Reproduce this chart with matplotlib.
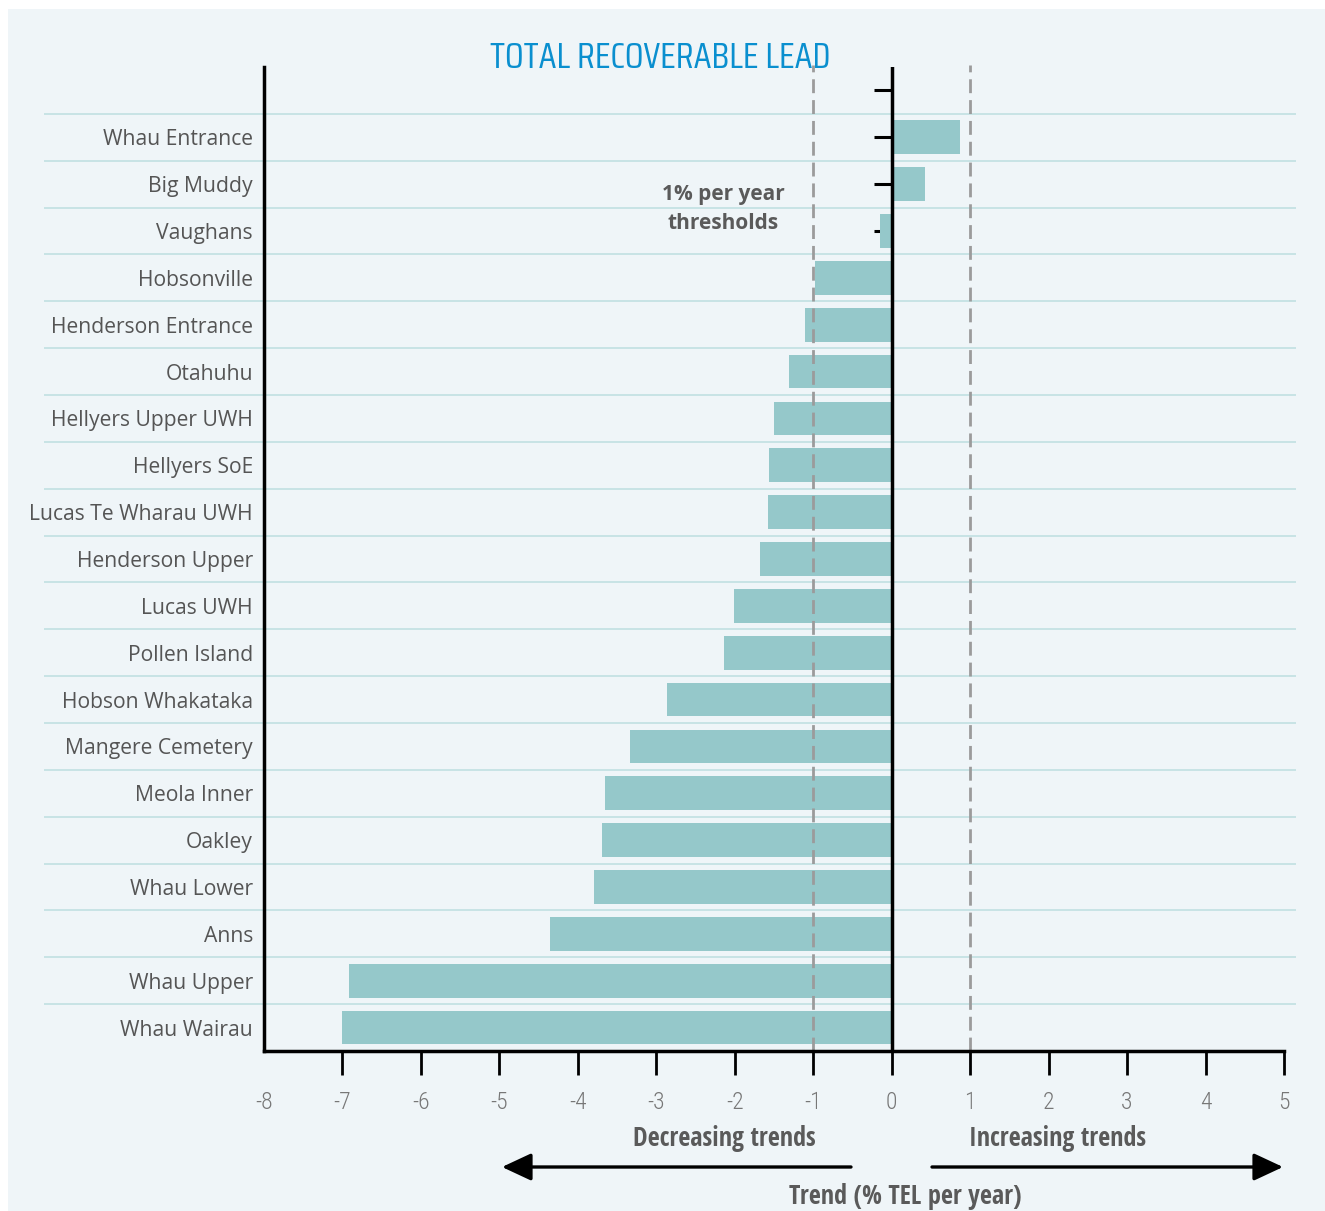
import matplotlib
matplotlib.use("Agg")
import matplotlib.pyplot as plt
from matplotlib.patches import Rectangle, FancyArrowPatch

# Site names (top to bottom) and trend values (% TEL per year)
sites = ["Whau Entrance", "Big Muddy", "Vaughans", "Hobsonville", "Henderson Entrance",
         "Otahuhu", "Hellyers Upper UWH", "Hellyers SoE", "Lucas Te Wharau UWH",
         "Henderson Upper", "Lucas UWH", "Pollen Island", "Hobson Whakataka",
         "Mangere Cemetery", "Meola Inner", "Oakley", "Whau Lower", "Anns",
         "Whau Upper", "Whau Wairau"]
trends = [0.87, 0.42, -0.15, -0.98, -1.10, -1.31, -1.50, -1.57, -1.58, -1.68,
          -2.01, -2.14, -2.87, -3.33, -3.66, -3.69, -3.80, -4.36, -6.92, -7.00]
thresholds = [-1, 1]
xticks = list(range(-8, 6))

W, H = 1325, 1211
bg = "#eff5f8"
bar_col = "#95c8ca"
grid_col = "#c4e2e3"
txt_col = "#5a5a5a"
cond = "Open Sans Condensed"

fig = plt.figure(figsize=(W / 100, H / 100), dpi=100, facecolor="white")
fig.patches.append(Rectangle((8 / W, 0), 1 - 8 / W, 1 - 9 / H, transform=fig.transFigure,
                             facecolor=bg, edgecolor="none", zorder=-5))

ax = fig.add_axes([264 / W, 1 - 1051 / H, (1284 - 264) / W, (1051 - 67) / H])
ax.set_facecolor("none")

y = list(range(len(sites)))
ax.barh(y, trends, height=0.72, color=bar_col, zorder=3)
ax.set_xlim(-8, 5)
ax.set_ylim(len(sites) - 0.5, -1.5)

# row separators running past the axes on both sides
ax.hlines([i - 0.5 for i in y], -10.81, 5.15, color=grid_col, lw=1.3, zorder=1, clip_on=False)

# zero axis with its little category ticks
ax.axvline(0, color="black", lw=2.5, zorder=5)
ax.hlines([-1] + y, -0.22, 0, color="black", lw=2.2, zorder=2)

# 1% thresholds
for t in thresholds:
    ax.plot([t, t], [len(sites) - 0.5, -1.55], color="#9b9b9b", lw=2,
            dashes=(5, 2.5), zorder=4, clip_on=False)

for s in ["top", "right"]:
    ax.spines[s].set_visible(False)
for s in ["left", "bottom"]:
    ax.spines[s].set_linewidth(2.5)
    ax.spines[s].set_zorder(6)

ax.set_yticks(y)
ax.set_yticklabels(sites, fontsize=15.2, color="#555555", family="Open Sans")
ax.tick_params(axis="y", length=0, pad=8)
ax.set_xticks(xticks)
ax.set_xticklabels([str(v) for v in xticks], fontsize=17, color="#777777",
                   family="Roboto Condensed", fontweight="light")
ax.tick_params(axis="x", length=17, width=2, direction="out", pad=12)
ax.xaxis.get_major_ticks()[0].tick1line.set_visible(False)

fig.text(660 / W, 1 - 58 / H, "TOTAL RECOVERABLE LEAD", ha="center", va="center",
         fontsize=26, color="#0a8fcf", family="Saira Condensed")
fig.text(723 / W, 1 - 209 / H, "1% per year\nthresholds", ha="center", va="center",
         fontsize=15, fontweight="bold", color=txt_col, linespacing=1.55, family="Open Sans")
fig.text(724 / W, 1 - 1139 / H, "Decreasing trends", ha="center", va="center",
         fontsize=18.8, fontweight="bold", color=txt_col, family=cond)
fig.text(1058 / W, 1 - 1139 / H, "Increasing trends", ha="center", va="center",
         fontsize=18.8, fontweight="bold", color=txt_col, family=cond)
fig.text(905 / W, 1 - 1197 / H, "Trend (% TEL per year)", ha="center", va="center",
         fontsize=18.8, fontweight="bold", color=txt_col, family=cond)

arrow_kw = dict(arrowstyle="-|>,head_length=0.9,head_width=0.42", color="black", lw=2.4,
                shrinkA=0, shrinkB=0, mutation_scale=20)
fig.add_artist(FancyArrowPatch((851 / W, 1 - 1167 / H), (502 / W, 1 - 1167 / H),
                               transform=fig.transFigure, **arrow_kw))
fig.add_artist(FancyArrowPatch((932 / W, 1 - 1167 / H), (1283 / W, 1 - 1167 / H),
                               transform=fig.transFigure, **arrow_kw))

fig.savefig("out.png", dpi=100, facecolor="white")
